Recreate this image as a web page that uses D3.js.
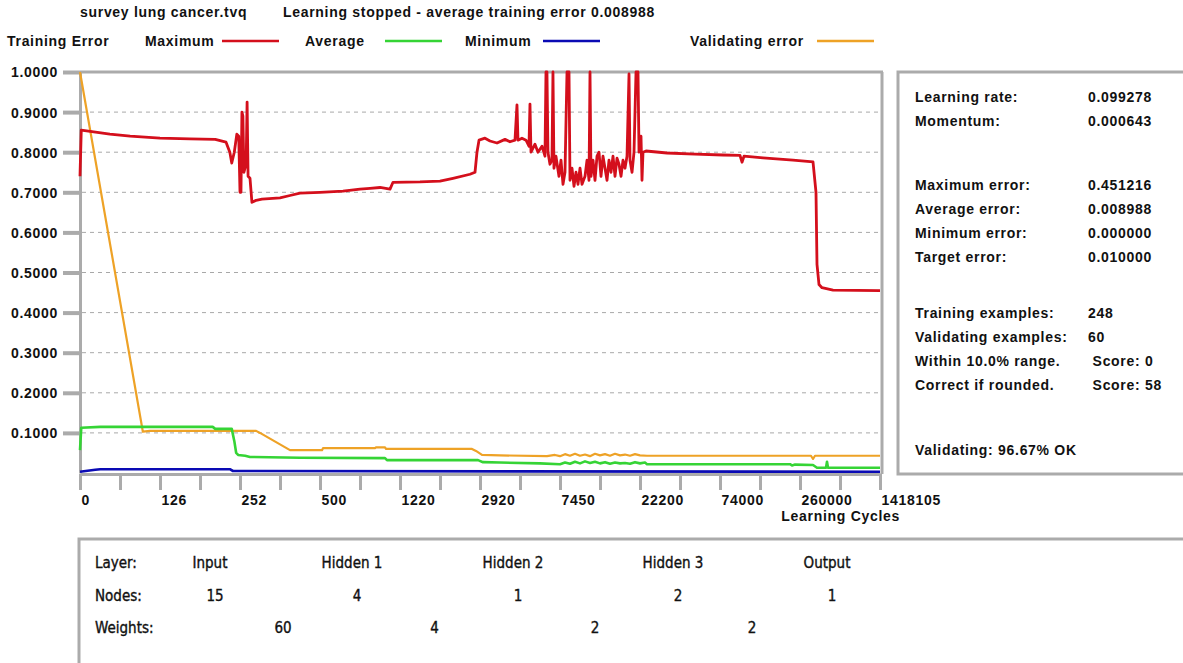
<!DOCTYPE html>
<html>
<head>
<meta charset="utf-8">
<script src="https://cdn.jsdelivr.net/npm/d3@7"></script>
<style>
  body { margin: 0; background: #fff; }
  svg { display: block; font-family: "Liberation Sans", Arial, sans-serif; }
  .b { font-weight: bold; font-size: 14px; letter-spacing: 0.7px; fill: #111; }
  .n { font-family: "Liberation Sans Narrow", "DejaVu Sans Condensed", sans-serif; font-stretch: condensed; font-size: 15px; fill: #111; stroke: #111; stroke-width: 0.35px; }
</style>
</head>
<body>
<svg width="1183" height="663"></svg>
<script>
// x axis labels (learning cycles), y ticks
var cycleLabels = [0, 126, 252, 500, 1220, 2920, 7450, 22200, 74000, 260000, 1418105];
var errorTicks = [0.1, 0.2, 0.3, 0.4, 0.5, 0.6, 0.7, 0.8, 0.9, 1.0];

// [cycles, error]
var maxError = [
  [0,0.74],[2,0.855],[16,0.852],[47,0.845],[79,0.84],[126,0.835],[173,0.833],[213,0.832],
  [230,0.825],[236,0.80],[239,0.773],[243,0.80],[247,0.845],[250,0.84],[252,0.70],[255,0.70],
  [258,0.90],[261,0.89],[264,0.75],[271,0.77],[274,0.925],[277,0.74],[283,0.735],[289,0.675],
  [302,0.68],[320,0.683],[376,0.686],[407,0.692],[438,0.698],[500,0.70],[707,0.703],[860,0.708],
  [950,0.71],[1040,0.712],[1130,0.708],[1157,0.725],[1645,0.726],[2070,0.728],[2346,0.735],
  [2708,0.745],[2814,0.75],[2856,0.80],[2899,0.83],[3203,0.835],[3486,0.828],[3882,0.823],
  [4335,0.832],[4618,0.826],[4901,0.83],[5014,0.918],[5071,0.83],[5297,0.835],[5524,0.83],
  [5693,0.815],[5750,0.92],[5807,0.80],[6033,0.82],[6203,0.80],[6429,0.815],[6599,0.79],
  [6656,1.0],[6712,1.0],[6769,0.80],[6882,0.77],[6995,0.78],[7052,1.0],[7108,0.76],[7221,0.79],
  [7391,0.74],[7634,0.78],[8003,0.72],[8372,0.75],[8741,1.0],[9110,1.0],[9294,0.73],[9663,0.76],
  [10032,0.715],[10400,0.75],[10769,0.72],[11138,0.76],[11507,0.72],[12060,0.74],[12429,0.78],
  [12798,0.73],[12982,1.0],[13166,0.74],[13535,0.78],[13904,0.73],[14273,0.79],[14642,0.80],
  [15010,0.74],[15379,0.79],[15748,0.76],[16117,0.73],[16486,0.78],[16854,0.75],[17223,0.79],
  [17592,0.74],[17961,0.785],[18330,0.77],[18698,0.74],[19067,0.78],[19436,0.76],[19805,0.79],
  [20174,0.995],[20358,0.78],[20727,0.75],[21096,0.80],[21464,1.0],[21833,1.0],[22018,0.80],
  [22848,0.84],[23495,0.73],[24143,0.80],[26085,0.803],[39683,0.798],[57813,0.795],[80975,0.793],
  [120500,0.792],[125150,0.775],[129800,0.79],[173975,0.786],[243725,0.78],[448188,0.776],
  [491616,0.70],[506092,0.52],[535044,0.47],[578472,0.462],[737708,0.456],[1418105,0.455]
];
var avgError = [
  [0,0.057],[2,0.113],[32,0.115],[209,0.115],[213,0.11],[239,0.11],[243,0.08],[246,0.05],
  [249,0.045],[268,0.043],[283,0.04],[438,0.038],[1085,0.037],[1103,0.032],[2878,0.032],
  [3090,0.027],[4052,0.026],[6316,0.024],[7450,0.022],[8372,0.026],[9294,0.023],[10216,0.028],
  [11138,0.024],[12060,0.029],[12982,0.025],[13904,0.028],[14826,0.024],[15748,0.027],
  [16670,0.023],[17592,0.026],[18514,0.024],[19436,0.025],[20358,0.023],[21280,0.027],
  [22200,0.024],[25438,0.026],[26733,0.022],[236750,0.022],[241400,0.019],[248375,0.021],
  [448188,0.02],[506092,0.013],[636376,0.013],[650852,0.028],[665328,0.013],[1418105,0.013]
];
var minError = [
  [0,0.003],[24,0.008],[32,0.0095],[236,0.0095],[241,0.005],[1418105,0.003]
];
var valError = [
  [0,1.0],[99,0.103],[110,0.105],[302,0.105],[314,0.10],[407,0.057],[518,0.057],[527,0.062],
  [995,0.062],[1004,0.064],[1085,0.064],[1094,0.06],[2750,0.06],[2835,0.055],[3033,0.045],
  [4052,0.044],[6712,0.042],[7165,0.045],[7450,0.042],[8372,0.047],[9294,0.043],[10216,0.048],
  [11138,0.043],[12060,0.046],[12982,0.042],[13904,0.048],[14826,0.044],[15748,0.047],
  [16670,0.043],[17592,0.048],[18514,0.044],[19436,0.046],[20358,0.043],[21280,0.047],
  [22200,0.044],[26733,0.043],[419236,0.043],[448188,0.035],[477140,0.043],[1418105,0.043]
];

var legendItems = [
  { name: "Maximum", color: "#d40f1c", x: 145, lineX: 222 },
  { name: "Average", color: "#35d435", x: 305, lineX: 385 },
  { name: "Minimum", color: "#0a0ab4", x: 465, lineX: 543 },
  { name: "Validating error", color: "#eea226", x: 690, lineX: 817 }
];

var statRows = [
  ["Learning rate:", "0.099278", 97], ["Momentum:", "0.000643", 121],
  ["Maximum error:", "0.451216", 185], ["Average error:", "0.008988", 209],
  ["Minimum error:", "0.000000", 233], ["Target error:", "0.010000", 257],
  ["Training examples:", "248", 313], ["Validating examples:", "60", 337],
  ["Within 10.0% range.", " Score: 0", 361], ["Correct if rounded.", " Score: 58", 385]
];

var layers = ["Input", "Hidden 1", "Hidden 2", "Hidden 3", "Output"];
var nodes = [15, 4, 1, 2, 1];
var weights = [60, 4, 2, 2];

var svg = d3.select("svg");
var grey = "#ababab";

var x = d3.scaleLinear()
    .domain(cycleLabels)
    .range(cycleLabels.map(function(d, i) { return 80 + i * 80; }));
var y = d3.scaleLinear().domain([0, 1]).range([473, 72]);

// header
svg.append("text").attr("class", "b").attr("x", 80).attr("y", 17).text("survey lung cancer.tvq");
svg.append("text").attr("class", "b").attr("x", 283).attr("y", 17)
    .text("Learning stopped - average training error 0.008988");
svg.append("text").attr("class", "b").attr("x", 7).attr("y", 46).text("Training Error");

var leg = svg.selectAll(".leg").data(legendItems).join("g");
leg.append("text").attr("class", "b").attr("x", d => d.x).attr("y", 46).text(d => d.name);
leg.append("line")
    .attr("x1", d => d.lineX).attr("x2", d => d.lineX + 57)
    .attr("y1", 41).attr("y2", 41)
    .attr("stroke", d => d.color).attr("stroke-width", 2.5);

// grid
svg.append("g").selectAll("line").data(errorTicks.slice(0, 9)).join("line")
    .attr("x1", 82).attr("x2", 880)
    .attr("y1", d => y(d)).attr("y2", d => y(d))
    .attr("stroke", "#a8a8a8").attr("stroke-dasharray", "4,4").attr("stroke-width", 1);

// frame
svg.append("line").attr("x1", 80).attr("x2", 883).attr("y1", 72).attr("y2", 72)
    .attr("stroke", grey).attr("stroke-width", 3);
svg.append("line").attr("x1", 882).attr("x2", 882).attr("y1", 72).attr("y2", 474)
    .attr("stroke", grey).attr("stroke-width", 3);

// axes
var yAxis = svg.append("g").attr("transform", "translate(80,0)")
    .call(d3.axisLeft(y).tickValues(errorTicks).tickSize(17).tickSizeOuter(0)
        .tickPadding(5).tickFormat(d3.format(".4f")));
yAxis.selectAll("line").attr("stroke", grey).attr("stroke-width", 4);
yAxis.select(".domain").attr("stroke", grey).attr("stroke-width", 3);
yAxis.selectAll("text").attr("class", "b").attr("font-family", null).attr("font-size", null)
    .attr("dy", "0.35em");

var mids = d3.pairs(cycleLabels).map(function(p) { return (p[0] + p[1]) / 2; });
var xAxis = svg.append("g").attr("transform", "translate(0,474)")
    .call(d3.axisBottom(x).tickValues(cycleLabels.concat(mids)).tickSize(16).tickSizeOuter(0)
        .tickPadding(5).tickFormat(function(d) { return cycleLabels.indexOf(d) >= 0 ? d : ""; }));
xAxis.selectAll("line").attr("stroke", grey).attr("stroke-width", 3);
xAxis.select(".domain").attr("stroke", grey).attr("stroke-width", 3);
xAxis.selectAll("text").attr("class", "b").attr("font-family", null).attr("font-size", null)
    .attr("text-anchor", "start").attr("dx", 1);
svg.append("text").attr("class", "b").attr("x", 900).attr("y", 521)
    .attr("text-anchor", "end").text("Learning Cycles");

// series
var line = d3.line().x(d => x(d[0])).y(d => y(d[1]));
[[valError, "#eea226", 2.2], [avgError, "#35d435", 2.6], [minError, "#0a0ab4", 2.6], [maxError, "#d40f1c", 2.8]]
  .forEach(function(s) {
    svg.append("path").datum(s[0]).attr("d", line)
        .attr("fill", "none").attr("stroke", s[1]).attr("stroke-width", s[2])
        .attr("stroke-linejoin", "round");
  });

// right stats panel
svg.append("rect").attr("x", 898).attr("y", 72).attr("width", 300).attr("height", 402)
    .attr("fill", "none").attr("stroke", grey).attr("stroke-width", 3);
var rows = svg.append("g").selectAll("g").data(statRows).join("g");
rows.append("text").attr("class", "b").attr("x", 915).attr("y", d => d[2] + 5).text(d => d[0]);
rows.append("text").attr("class", "b").attr("x", 1088).attr("y", d => d[2] + 5)
    .attr("xml:space", "preserve").text(d => d[1]);
svg.append("text").attr("class", "b").attr("x", 915).attr("y", 455).text("Validating: 96.67% OK");

// bottom network panel
svg.append("rect").attr("x", 79).attr("y", 539).attr("width", 1120).attr("height", 140)
    .attr("fill", "none").attr("stroke", grey).attr("stroke-width", 3);
var nb = svg.append("g");
nb.append("text").attr("class", "n").attr("x", 95).attr("y", 568).text("Layer:");
nb.append("text").attr("class", "n").attr("x", 95).attr("y", 601).text("Nodes:");
nb.append("text").attr("class", "n").attr("x", 95).attr("y", 633).text("Weights:");
var colX = [210, 352, 513, 673, 827];
nb.selectAll(".ly").data(layers).join("text").attr("class", "n")
    .attr("x", (d, i) => colX[i]).attr("y", 568).attr("text-anchor", "middle").text(d => d);
nb.selectAll(".nd").data(nodes).join("text").attr("class", "n")
    .attr("x", (d, i) => colX[i] + 5).attr("y", 601).attr("text-anchor", "middle").text(d => d);
nb.selectAll(".wt").data(weights).join("text").attr("class", "n")
    .attr("x", (d, i) => (colX[i] + colX[i + 1]) / 2 + 2).attr("y", 633).attr("text-anchor", "middle").text(d => d);
</script>
</body>
</html>
